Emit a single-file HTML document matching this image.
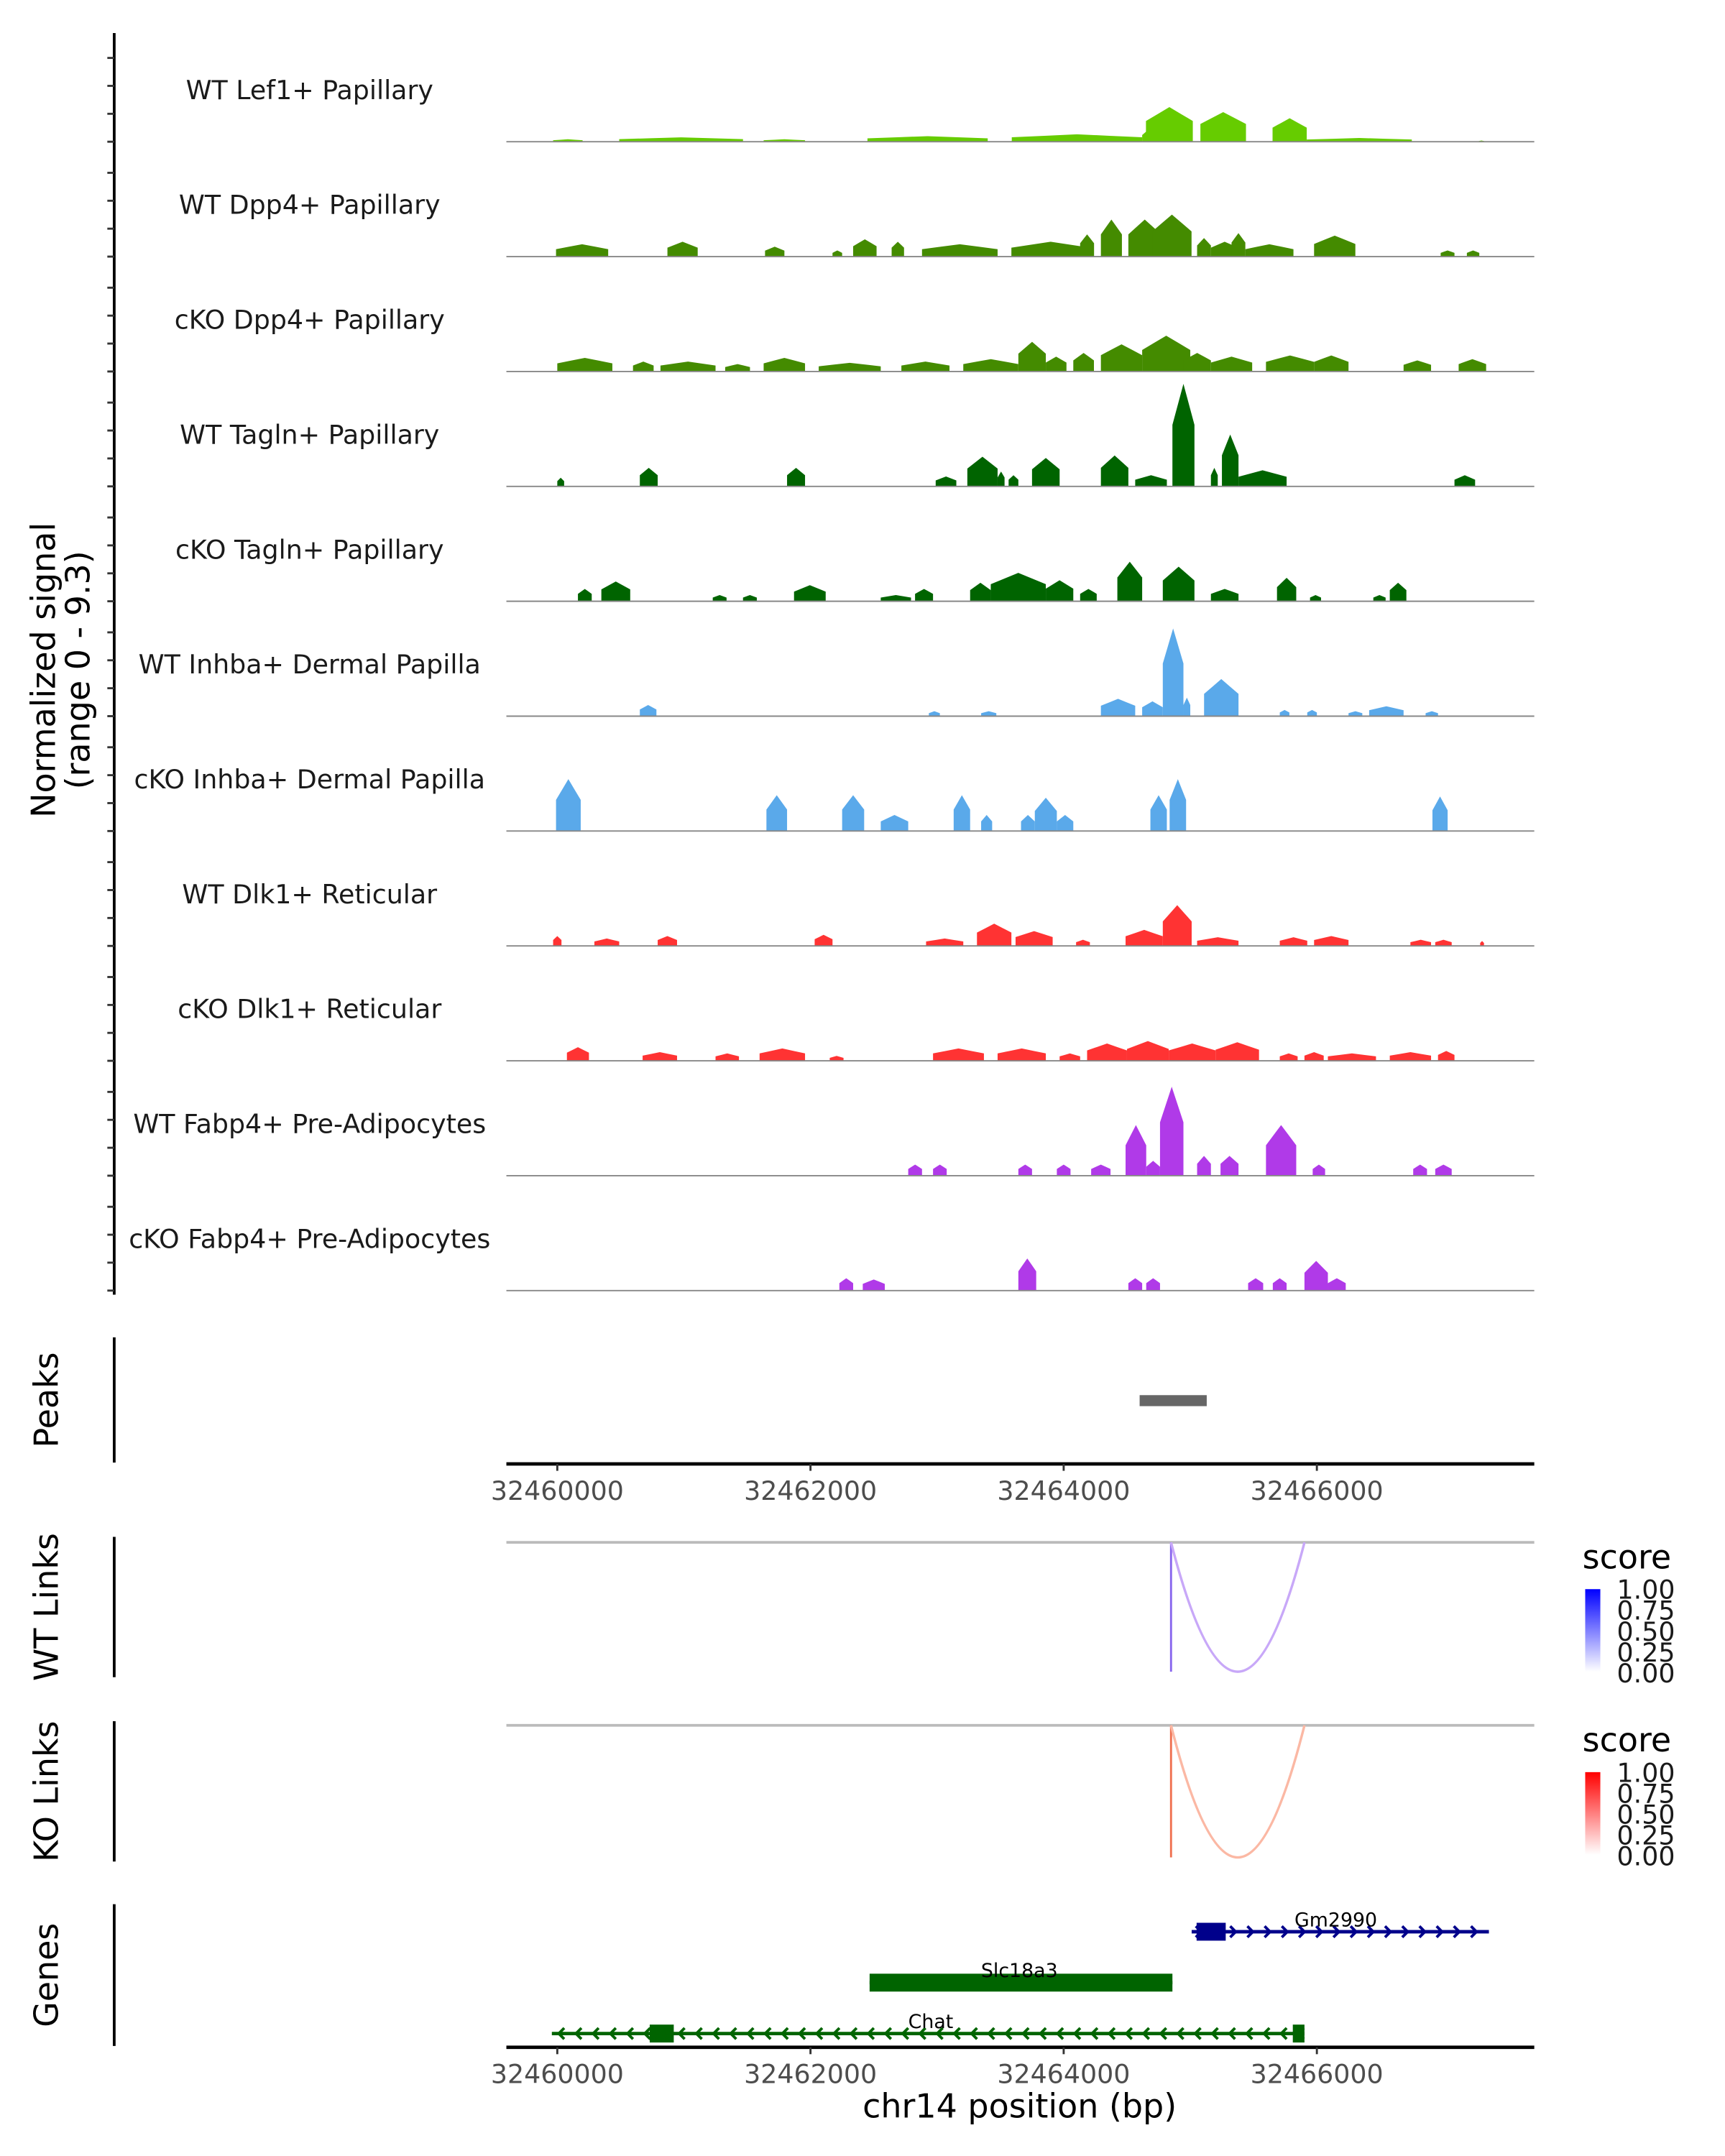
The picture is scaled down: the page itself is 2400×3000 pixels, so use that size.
<!DOCTYPE html>
<html><head><meta charset="utf-8"><style>
html,body{margin:0;padding:0;background:#fff}
svg{display:block;font-family:"DejaVu Sans","Liberation Sans",sans-serif}
</style></head><body>
<svg id="chart" width="2400" height="3000" viewBox="0 0 1253.6 1567" preserveAspectRatio="none" xmlns="http://www.w3.org/2000/svg">
<rect width="1253.6" height="1567" fill="#fff"/>
<g id="tracks"></g>
<g id="fixed"></g>
</svg>
<script>
const REGION_START = 32460000;
const trackNames = ["WT Lef1+ Papillary","WT Dpp4+ Papillary","cKO Dpp4+ Papillary","WT Tagln+ Papillary","cKO Tagln+ Papillary","WT Inhba+ Dermal Papilla","cKO Inhba+ Dermal Papilla","WT Dlk1+ Reticular","cKO Dlk1+ Reticular","WT Fabp4+ Pre-Adipocytes","cKO Fabp4+ Pre-Adipocytes"];
const trackColors = ["#66cc00","#448b00","#448b00","#006400","#006400","#5aa9ea","#5aa9ea","#ff3333","#ff3333","#b03ae8","#b03ae8"];
// segments: [startOffsetBp, endOffsetBp, signal]
const sigLef1 = [[-33,200,.2],[489,1467,.35],[1630,1957,.2],[2450,3400,.45],[3590,4620,.6],[4620,4700,.9],[4650,5020,2.8],[5080,5440,2.4],[5650,5920,1.9],[5920,6750,.3],[7280,7320,.1]];
const sigDpp4WT = [[-10,402,1.0],[870,1109,1.2],[1641,1794,.8],[2174,2250,.5],[2337,2522,1.4],[2641,2739,1.2],[2881,3478,1.0],[3587,4207,1.2],[4130,4240,1.8],[4294,4460,3.0],[4511,4770,3.0],[4700,5010,3.4],[5054,5163,1.5],[5163,5380,1.2],[5326,5435,1.9],[5435,5815,1.0],[5978,6304,1.7],[6978,7087,.5],[7185,7283,.5]];
const sigDpp4KO = [[0,435,1.1],[598,761,.8],[815,1250,.8],[1326,1522,.6],[1630,1957,1.1],[2065,2555,.7],[2718,3098,.8],[3207,3642,1.0],[3642,3859,2.4],[3859,4022,1.2],[4076,4239,1.5],[4294,4620,2.2],[4620,5000,2.9],[4946,5163,1.5],[5163,5489,1.2],[5598,5978,1.3],[5978,6250,1.3],[6685,6902,.9],[7120,7337,1.0]];
const sigTaglnWT = [[0,54,.7],[652,793,1.5],[1815,1957,1.5],[2989,3152,.8],[3239,3478,2.4],[3478,3533,1.2],[3565,3642,.9],[3750,3968,2.3],[4294,4511,2.5],[4565,4815,.9],[4859,5033,8.3],[5163,5217,1.5],[5250,5381,4.2],[5381,5761,1.3],[7087,7250,.9]];
const sigTaglnKO = [[163,272,1.0],[348,576,1.6],[1228,1337,.5],[1467,1576,.5],[1870,2120,1.3],[2555,2794,.5],[2826,2968,1.0],[3261,3424,1.5],[3424,3859,2.3],[3859,4076,1.7],[4130,4261,1.0],[4424,4620,3.2],[4783,5033,2.8],[5163,5381,1.0],[5685,5837,1.9],[5946,6033,.5],[6446,6543,.5],[6576,6707,1.5]];
const sigInhbaWT = [[652,783,.9],[2935,3022,.4],[3348,3468,.4],[4294,4565,1.4],[4620,4783,1.2],[4783,4946,7.1],[4946,5000,1.5],[5109,5381,3.0],[5707,5783,.5],[5924,6000,.5],[6250,6359,.4],[6413,6685,.8],[6859,6957,.4]];
const sigInhbaKO = [[-10,185,4.2],[1652,1815,2.9],[2250,2424,2.9],[2555,2772,1.3],[3131,3261,2.9],[3348,3435,1.3],[3663,3772,1.3],[3772,3946,2.7],[3946,4076,1.3],[4685,4815,2.9],[4837,4967,4.2],[6913,7033,2.8]];
const sigDlk1WT = [[-33,33,.8],[293,489,.6],[793,946,.8],[2033,2174,.9],[2913,3207,.6],[3315,3587,1.8],[3620,3913,1.2],[4098,4207,.5],[4489,4783,1.3],[4783,5011,3.3],[5054,5381,.7],[5707,5924,.7],[5978,6250,.8],[6739,6902,.5],[6935,7065,.5],[7290,7320,.4]];
const sigDlk1KO = [[76,250,1.1],[674,946,.7],[1250,1435,.6],[1598,1957,1.0],[2152,2261,.4],[2968,3370,1.0],[3478,3859,1.0],[3968,4130,.6],[4185,4500,1.4],[4500,4830,1.6],[4830,5200,1.4],[5200,5543,1.5],[5707,5848,.6],[5902,6054,.7],[6087,6467,.6],[6576,6902,.7],[6957,7087,.8]];
const sigFabp4WT = [[2772,2881,.9],[2968,3076,.9],[3642,3750,.9],[3946,4054,.9],[4217,4370,.9],[4489,4652,4.1],[4652,4761,1.2],[4761,4946,7.2],[5054,5163,1.6],[5239,5381,1.6],[5598,5837,4.1],[5967,6065,.9],[6761,6870,.9],[6935,7065,.9]];
const sigFabp4KO = [[2228,2337,1.0],[2413,2587,.9],[3642,3783,2.6],[4511,4620,1.0],[4652,4761,1.0],[5457,5576,1.0],[5652,5761,1.0],[5902,6087,2.4],[6087,6228,1.0]];
const allSignals = [sigLef1,sigDpp4WT,sigDpp4KO,sigTaglnWT,sigTaglnKO,sigInhbaWT,sigInhbaKO,sigDlk1WT,sigDlk1KO,sigFabp4WT,sigFabp4KO];
const xTicks = [32460000,32462000,32464000,32466000];
const peakRegions = [[4600,5130]];
const wtLinks = [[4848,5902,0.35]];
const koLinks = [[4848,5902,0.35]];
const genes = [
  {name:"Gm2990",start:5011,end:7359,strand:1,row:0,color:"#00008b",exons:[[5050,5280]],labelAt:6150},
  {name:"Slc18a3",start:2467,end:4859,strand:-1,row:1,color:"#006400",exons:[[2467,4859]],labelAt:3650},
  {name:"Chat",start:-43,end:5902,strand:-1,row:2,color:"#006400",exons:[[730,920],[5810,5902]],labelAt:2950}
];
const SIG_MAX = 9.3;

const NS="http://www.w3.org/2000/svg";
const X0=368, X1=1115;
function xs(off){return 405+off*0.092;}
function mk(tag,attrs,parent,text){const e=document.createElementNS(NS,tag);for(const k in attrs)e.setAttribute(k,attrs[k]);if(text!==undefined)e.textContent=text;parent.appendChild(e);return e;}
const T=document.getElementById('tracks'), F=document.getElementById('fixed');
const BASE0=103, STEP=83.5, TH=83.5;
function ys(v,b){return b - v/SIG_MAX*TH;}

allSignals.forEach((segs,ti)=>{
  const b=BASE0+ti*STEP;
  const g=mk('g',{},T);
  
  
  const lab=mk('text',{x:225,y:b-31,'text-anchor':'middle','font-size':19,fill:'#1a1a1a'},g,trackNames[ti]);
  
  
  segs.forEach(s=>{
    const a=Math.max(X0,xs(s[0])), c=Math.min(X1,xs(s[1])), w=c-a, m=(a+c)/2;
    const pts=[[a,b],[a,ys(s[2]*0.6,b)],[a+w*0.25,ys(s[2]*0.8,b)],[m,ys(s[2],b)],[c-w*0.25,ys(s[2]*0.8,b)],[c,ys(s[2]*0.6,b)],[c,b]];
    const p=mk('polygon',{points:pts.map(q=>q.join(',')).join(' '),fill:trackColors[ti]},g);
    
    
  });
  const bl=mk('line',{x1:X0,x2:X1,y1:b,y2:b,stroke:'#888',"stroke-width":1},g);
  
  
});
const ax=mk('line',{x1:83,x2:83,y1:24,y2:941,stroke:'#000','stroke-width':2},F);


for(let ti=0;ti<11;ti++){const b=BASE0+ti*STEP;for(let k=0;k<4;k++){const y=b-k*20.3;
  const t=mk('line',{x1:78,x2:83,y1:y,y2:y,stroke:'#333','stroke-width':1.5},F);
  
  }}
const yt=mk('text',{transform:'translate(40,487) rotate(-90)','text-anchor':'middle','font-size':24,fill:'#000'},F);


mk('tspan',{x:0,dy:0},yt,'Normalized signal');mk('tspan',{x:0,dy:25},yt,'(range 0 - 9.3)');

function sideLabel(txt,y0,y1,name){
  const l=mk('line',{x1:83,x2:83,y1:y0,y2:y1,stroke:'#000','stroke-width':2},F);
  
  
  const t=mk('text',{transform:`translate(42,${(y0+y1)/2}) rotate(-90)`,'text-anchor':'middle','font-size':24,fill:'#000'},F,txt);
  
  
}
sideLabel('Peaks',972,1063,'peaks');
sideLabel('WT Links',1117,1219,'wt-links');
sideLabel('KO Links',1251,1353,'ko-links');
sideLabel('Genes',1384,1487,'genes');

peakRegions.forEach(r=>{const p=mk('rect',{x:xs(r[0]),y:1014,width:xs(r[1])-xs(r[0]),height:8,fill:'#666'},F);
  
  });

function xAxis(y,name){
  const l=mk('line',{x1:X0,x2:X1,y1:y,y2:y,stroke:'#000','stroke-width':2.5},F);
  
  
  xTicks.forEach(v=>{const x=xs(v-REGION_START);
    const t=mk('line',{x1:x,x2:x,y1:y,y2:y+5,stroke:'#333','stroke-width':1.5},F);
    
    
    const tl=mk('text',{x:x,y:y+26,'text-anchor':'middle','font-size':19,fill:'#4d4d4d'},F,String(v));
    
    });
}
xAxis(1064,'peaks-x-axis');
xAxis(1488,'x-axis');
const xt=mk('text',{x:741,y:1539,'text-anchor':'middle','font-size':24,fill:'#000'},F,'chr14 position (bp)');



function links(data,top,bottom,c1,c2,gid,name,endColor){
  const bl=mk('line',{x1:X0,x2:X1,y1:top,y2:top,stroke:'#bbb','stroke-width':2},F);
  
  
  data.forEach(d=>{const a=xs(d[0]),b=xs(d[1]);
    const v=mk('line',{x1:a,x2:a,y1:top,y2:bottom,stroke:c1,'stroke-width':1.5},F);
    
    
    const p=mk('path',{d:`M${a},${top} Q${(a+b)/2},${2*bottom-top} ${b},${top}`,fill:'none',stroke:c2,'stroke-width':1.8},F);
    
    });
  const defs=mk('defs',{},F);const lg=mk('linearGradient',{id:gid,x1:0,y1:1,x2:0,y2:0},defs);
  mk('stop',{offset:0,'stop-color':'#fff'},lg);mk('stop',{offset:1,'stop-color':endColor},lg);
  const lt=mk('text',{x:1150,y:top+19,'font-size':24,fill:'#000'},F,'score');
  
  
  const cb=mk('rect',{x:1152,y:top+34,width:11,height:60,fill:`url(#${gid})`},F);
  
  
  ['1.00','0.75','0.50','0.25','0.00'].forEach((s,i)=>{const t=mk('text',{x:1175,y:top+41+i*15.2,'font-size':19,fill:'#1a1a1a'},F,s);
    
    });
}
links(wtLinks,1121,1215,'#8866ee','#c8a8f8','gw','wt-links','#0000ff');
links(koLinks,1254,1350,'#f07050','#fbb8a4','gk','ko-links','#ff0000');

const rowY=[1404,1441,1478];
genes.forEach(gn=>{
  const y=rowY[gn.row],a=xs(gn.start),b=xs(gn.end);
  const g=mk('g',{},F);
  
  
  mk('line',{x1:a,x2:b,y1:y,y2:y,stroke:gn.color,'stroke-width':2.5},g);
  for(let x=a+6;x<b-3;x+=12.5){
    const d=gn.strand>0?`M${x-3},${y-4} L${x+1},${y} L${x-3},${y+4}`:`M${x+3},${y-4} L${x-1},${y} L${x+3},${y+4}`;
    mk('path',{d:d,fill:'none',stroke:gn.color,'stroke-width':2},g);}
  gn.exons.forEach(e=>{mk('rect',{x:xs(e[0]),y:y-6.5,width:xs(e[1])-xs(e[0]),height:13,fill:gn.color},g);});
  mk('text',{x:xs(gn.labelAt),y:y-4,'text-anchor':'middle','font-size':14,fill:'#000'},g,gn.name);
});
</script>
</body></html>
